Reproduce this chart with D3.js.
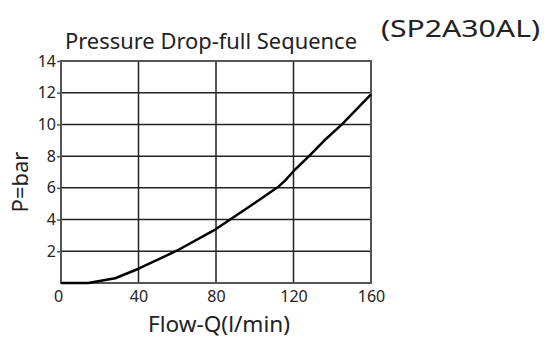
<!DOCTYPE html>
<html><head><meta charset="utf-8">
<script src="https://cdn.jsdelivr.net/npm/d3@7"></script>
<style>
html,body{margin:0;padding:0;background:#fff;}
svg{display:block;}
text{font-family:"Noto Sans","DejaVu Sans",sans-serif;fill:#222;}
</style></head>
<body>
<svg id="chart" width="550" height="337"></svg>
<script>
const flow = [0, 14, 28, 40, 60, 80, 100, 112, 116, 120, 128, 136, 145, 160];
const pressure = [0, 0, 0.3, 0.9, 2.05, 3.4, 5.05, 6.05, 6.5, 7.05, 8.0, 9.0, 10.0, 11.9];
const xTicks = [0, 40, 80, 120, 160];
const yTicks = [2, 4, 6, 8, 10, 12, 14];
const title = "Pressure Drop-full Sequence";
const model = "(SP2A30AL)";
const xLabel = "Flow-Q(l/min)";
const yLabel = "P=bar";

const svg = d3.select("#chart");
const m = {left: 61, right: 179, top: 61, bottom: 54};
const W = 550, H = 337;
const x = d3.scaleLinear().domain([0, 160]).range([m.left, W - m.right]);
const y = d3.scaleLinear().domain([0, 14]).range([H - m.bottom, m.top]);

// grid
svg.append("g").selectAll("line.v").data(xTicks.slice(1, -1)).join("line")
  .attr("x1", d => x(d)).attr("x2", d => x(d)).attr("y1", y(0)).attr("y2", y(14))
  .attr("stroke", "#222").attr("stroke-width", 1.5);
svg.append("g").selectAll("line.h").data(yTicks.slice(0, -1)).join("line")
  .attr("x1", x(0)).attr("x2", x(160)).attr("y1", d => y(d)).attr("y2", d => y(d))
  .attr("stroke", "#222").attr("stroke-width", 1.5);

// frame
svg.append("rect").attr("x", x(0)).attr("y", y(14))
  .attr("width", x(160) - x(0)).attr("height", y(0) - y(14))
  .attr("fill", "none").attr("stroke", "#555").attr("stroke-width", 2);

// axes
const xAxis = svg.append("g").attr("transform", `translate(0,${y(0)})`)
  .call(d3.axisBottom(x).tickValues(xTicks).tickSize(0).tickPadding(4));
xAxis.select(".domain").remove();
xAxis.selectAll("text").attr("font-size", 16).attr("dy", "0.95em")
  .style("font-family", '"Noto Sans","DejaVu Sans",sans-serif').attr("fill", "#333")
  .attr("dx", d => d === 0 ? -3 : 0);

const yAxis = svg.append("g").attr("transform", `translate(${x(0)},0)`)
  .call(d3.axisLeft(y).tickValues(yTicks).tickSize(4).tickPadding(1));
yAxis.select(".domain").remove();
yAxis.selectAll("line").attr("stroke", "#555").attr("stroke-width", 1.5);
yAxis.selectAll("text").attr("font-size", 16)
  .style("font-family", '"Noto Sans","DejaVu Sans",sans-serif').attr("fill", "#333");

// curve
const line = d3.line().x((d, i) => x(flow[i])).y((d, i) => y(pressure[i]));
svg.append("path").datum(flow).attr("d", line)
  .attr("fill", "none").attr("stroke", "#000").attr("stroke-width", 2.5)
  .attr("stroke-linejoin", "round");

// texts
svg.append("text").attr("x", 65).attr("y", 49).attr("font-size", 21)
  .attr("textLength", 292).attr("lengthAdjust", "spacingAndGlyphs").attr("fill", "#333").text(title);
svg.append("text").attr("x", 381).attr("y", 37).attr("font-size", 24)
  .attr("textLength", 159).attr("lengthAdjust", "spacingAndGlyphs").attr("fill", "#333").text(model);
svg.append("text").attr("x", 148).attr("y", 332).attr("font-size", 21)
  .attr("textLength", 142).attr("lengthAdjust", "spacingAndGlyphs").attr("fill", "#333").text(xLabel);
svg.append("text").attr("transform", `translate(28,${(y(0) + y(14)) / 2 + 10}) rotate(-90)`)
  .attr("font-size", 22).attr("text-anchor", "middle").attr("fill", "#333").text(yLabel);
</script>
</body></html>
